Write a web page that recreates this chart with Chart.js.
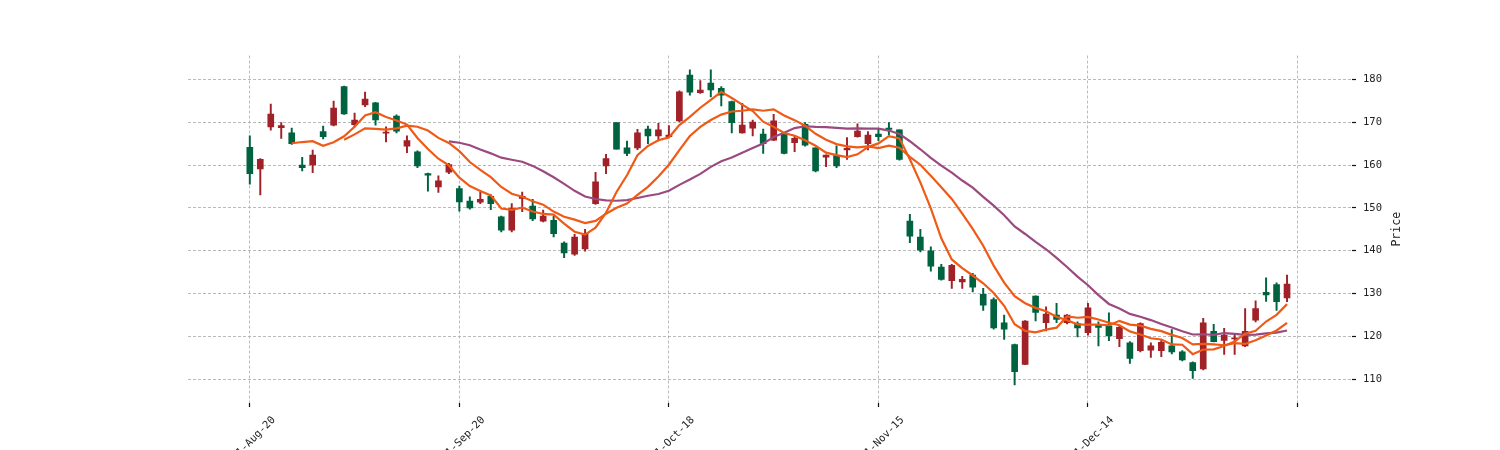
<!DOCTYPE html>
<html>
<head>
<meta charset="utf-8">
<script src="https://cdn.jsdelivr.net/npm/chart.js@4.4.1/dist/chart.umd.min.js"></script>
<style>
  html, body { margin: 0; padding: 0; background: #fff; overflow: hidden; }
</style>
</head>
<body>
<canvas id="chart" width="1500" height="450"></canvas>
<script>
// x ticks every 20 candles
const tickIndex = [0, 20, 40, 60, 80, 100];
const tickDates = ["2021-Aug-20", "2021-Sep-20", "2021-Oct-18", "2021-Nov-15", "2021-Dec-14", ""];
const priceTicks = [110, 120, 130, 140, 150, 160, 170, 180];

// OHLC (red = up, green = down)
const opens = [
  164.1, 159.1, 168.9, 168.7, 167.5, 160.0, 160.0, 167.8, 169.3, 178.3,
  169.4, 174.0, 174.5, 167.4, 171.4, 164.4, 163.1, 158.0, 154.9, 158.3,
  154.5, 151.6, 151.3, 152.7, 147.9, 144.8, 152.2, 150.4, 146.9, 147.1,
  141.8, 139.2, 140.4, 151.0, 159.8, 169.9, 164.0, 164.0, 168.4, 166.8,
  166.6, 170.3, 181.0, 176.9, 179.1, 177.9, 174.8, 167.5, 168.6, 167.2,
  165.8, 167.2, 165.2, 169.5, 164.0, 161.8, 162.2, 163.5, 166.6, 165.0,
  167.2, 168.6, 168.2, 146.9, 143.2, 140.0, 136.2, 133.0, 132.7, 134.3,
  129.8, 128.6, 123.2, 118.1, 113.5, 129.4, 123.2, 125.0, 123.2, 123.0,
  120.9, 122.6, 122.5, 119.5, 118.5, 116.7, 116.8, 116.7, 117.8, 116.4,
  113.9, 112.4, 121.2, 119.1, 119.4, 117.8, 123.8, 130.3, 132.1, 129.0
];
const highs = [
  166.8, 161.5, 174.2, 169.9, 168.6, 161.8, 163.5, 169.1, 174.9, 178.4,
  172.1, 177.0, 174.6, 168.9, 171.7, 166.8, 163.3, 158.1, 157.5, 160.4,
  155.1, 152.6, 153.7, 153.1, 148.1, 151.0, 153.7, 152.0, 149.5, 148.1,
  142.1, 143.8, 145.0, 158.3, 162.5, 169.9, 165.6, 168.3, 169.1, 169.7,
  169.2, 177.3, 182.2, 179.7, 182.2, 178.3, 174.9, 174.4, 170.5, 168.4,
  171.8, 167.3, 166.8, 169.9, 164.0, 162.4, 164.5, 166.4, 169.6, 167.8,
  168.4, 169.9, 168.2, 148.5, 145.0, 140.9, 136.8, 136.8, 134.0, 134.7,
  131.2, 129.0, 125.0, 118.2, 123.7, 129.5, 126.9, 127.7, 125.1, 123.4,
  127.7, 123.4, 125.5, 122.5, 118.8, 123.2, 118.5, 119.3, 121.6, 116.7,
  114.1, 124.2, 122.8, 121.9, 120.5, 126.5, 128.3, 133.7, 132.5, 134.3
];
const lows = [
  155.5, 153.0, 168.1, 166.2, 164.8, 158.6, 158.2, 166.1, 169.1, 171.8,
  168.9, 173.6, 169.3, 165.4, 167.5, 162.9, 159.4, 153.9, 153.6, 158.0,
  149.2, 149.7, 151.0, 149.6, 144.4, 144.4, 149.1, 147.0, 146.7, 143.2,
  138.4, 138.9, 139.9, 150.8, 158.0, 163.7, 162.2, 163.6, 165.0, 165.6,
  166.4, 170.1, 176.3, 176.7, 175.9, 173.8, 167.5, 167.4, 166.8, 162.7,
  165.7, 162.6, 163.1, 164.4, 158.4, 159.6, 159.4, 161.3, 166.5, 163.5,
  165.7, 167.0, 161.1, 141.9, 139.7, 135.2, 133.1, 131.2, 131.2, 130.4,
  126.1, 121.7, 119.3, 108.7, 113.4, 123.6, 121.3, 123.2, 122.9, 119.9,
  120.3, 117.8, 119.0, 117.6, 113.7, 116.4, 115.1, 115.3, 115.9, 114.3,
  110.2, 112.2, 118.7, 115.8, 115.8, 117.6, 123.4, 128.2, 126.1, 128.1
];
const closes = [
  158.0, 161.3, 171.9, 169.2, 165.0, 159.4, 162.3, 166.6, 173.3, 171.9,
  170.5, 175.4, 170.5, 167.7, 167.9, 165.7, 159.8, 157.6, 156.3, 160.1,
  151.4, 150.0, 152.0, 151.0, 144.8, 149.9, 152.7, 147.4, 148.1, 144.0,
  139.5, 143.2, 144.0, 156.1, 161.5, 163.7, 162.7, 167.5, 166.8, 168.2,
  167.0, 177.1, 177.0, 177.5, 177.5, 176.3, 169.9, 169.3, 170.0, 165.0,
  170.3, 162.7, 166.2, 164.6, 158.6, 162.3, 159.8, 163.9, 167.9, 167.0,
  166.6, 168.3, 161.3, 143.4, 140.1, 136.4, 133.3, 136.6, 133.3, 131.5,
  127.3, 122.0, 121.7, 111.8, 123.6, 125.6, 125.2, 124.0, 125.0, 122.0,
  126.7, 122.1, 120.1, 122.1, 114.9, 123.0, 117.8, 118.6, 116.4, 114.5,
  112.0, 123.2, 118.8, 120.3, 119.7, 121.2, 126.5, 129.7, 128.1, 132.2
];
const maPeriods = [5, 10, 20];
const maColors = ["#ef5a17", "#ef5a17", "#9b4a80"];

const upColor = "#a02128";
const downColor = "#006340";
const textColor = "#222";
const tickFont = { family: "DejaVu Sans Mono", size: 10.5 };

// moving average of the closes, as the chart shows it
function movingAverage(values, n) {
    const out = [];
    for (let i = n - 1; i < values.length; i++) {
        let sum = 0;
        for (let j = i - n + 1; j <= i; j++) sum += values[j];
        out.push({ x: i, y: sum / n });
    }
    return out;
}

const candleColor = (ctx) => closes[ctx.dataIndex] >= opens[ctx.dataIndex] ? upColor : downColor;

const maDatasets = maPeriods.map((n, k) => ({
    type: "line",
    label: "MA" + n,
    data: movingAverage(closes, n),
    borderColor: maColors[k],
    borderWidth: 2.2,
    pointRadius: 0,
    tension: 0,
    order: 0
}));

const bodies = {
    type: "bar",
    label: "body",
    data: opens.map((o, i) => ({ x: i, y: [o, closes[i]] })),
    backgroundColor: candleColor,
    barThickness: 6,
    minBarLength: 1,
    grouped: false,
    borderSkipped: false,
    order: 1
};

const wicks = {
    type: "bar",
    label: "wick",
    data: lows.map((l, i) => ({ x: i, y: [l, highs[i]] })),
    backgroundColor: candleColor,
    barThickness: 1.3,
    grouped: false,
    borderSkipped: false,
    order: 2
};

// y label on the right, reading upwards
const priceTitle = {
    id: "priceTitle",
    afterDraw(chart) {
        const { ctx, chartArea } = chart;
        ctx.save();
        ctx.translate(chartArea.right + 45, (chartArea.top + chartArea.bottom) / 2);
        ctx.rotate(-Math.PI / 2);
        ctx.font = '11.5px "DejaVu Sans Mono"';
        ctx.fillStyle = textColor;
        ctx.textAlign = "center";
        ctx.textBaseline = "middle";
        ctx.fillText("Price", 0, 0);
        ctx.restore();
    }
};

const gridStyle = {
    color: "#a8a8a8",
    lineWidth: 0.8,
    tickColor: "#111",
    tickWidth: 1.2,
    tickLength: 4,
    tickBorderDash: [],
    offset: false
};
// in Chart.js v4 the grid line dash sits under "border"
const borderStyle = { display: false, dash: [3, 2] };

new Chart(document.getElementById("chart"), {
    type: "bar",
    data: { datasets: [...maDatasets, bodies, wicks] },
    options: {
        responsive: false,
        animation: false,
        devicePixelRatio: 1,
        layout: { padding: { left: 188, top: 55.5, right: 0, bottom: 0 } },
        plugins: { legend: { display: false }, tooltip: { enabled: false } },
        scales: {
            x: {
                type: "linear",
                min: -5.9,
                max: 105.2,
                offset: false,
                afterBuildTicks: (s) => { s.ticks = tickIndex.map((v) => ({ value: v })); },
                afterFit: (s) => { s.height = 47; },
                ticks: {
                    autoSkip: false,
                    minRotation: 45,
                    maxRotation: 45,
                    labelOffset: 24,
                    padding: 7,
                    font: tickFont,
                    color: textColor,
                    callback: (v, i) => tickDates[i]
                },
                grid: gridStyle,
                border: borderStyle
            },
            y: {
                position: "right",
                min: 104.47,
                max: 185.55,
                afterBuildTicks: (s) => { s.ticks = priceTicks.map((v) => ({ value: v })); },
                afterFit: (s) => { s.width = 148; },
                ticks: { padding: 7, font: tickFont, color: textColor },
                grid: gridStyle,
                border: borderStyle
            }
        }
    },
    plugins: [priceTitle]
});
</script>
</body>
</html>
